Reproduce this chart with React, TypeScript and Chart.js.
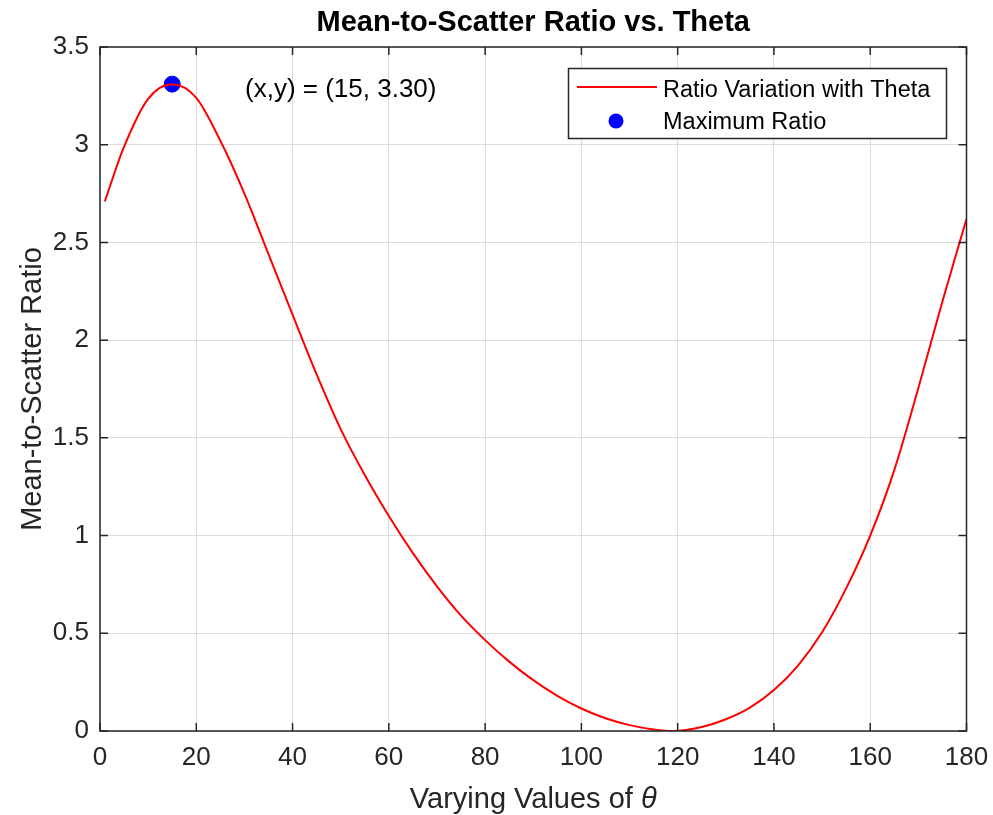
import React, { useEffect, useRef } from "react";
import { Chart, registerables } from "chart.js";

Chart.register(...registerables);

// ---- data ----
const thetaValues = [1, 5, 10, 15, 20, 25, 30, 35, 40, 45, 50, 55, 60, 65, 70, 75, 80, 85, 90, 95, 100, 105, 110, 115, 119, 125, 130, 135, 140, 145, 150, 155, 160, 165, 170, 175, 180];
const ratioValues = [2.71, 2.99, 3.235, 3.31, 3.24, 3.02, 2.75, 2.44, 2.13, 1.825, 1.545, 1.31, 1.10, 0.91, 0.74, 0.59, 0.465, 0.355, 0.26, 0.18, 0.115, 0.065, 0.03, 0.008, 0.0, 0.02, 0.06, 0.12, 0.21, 0.335, 0.505, 0.73, 1.0, 1.335, 1.755, 2.198, 2.62];
const maxTheta = [15];
const maxRatio = [3.31];
const xTickValues = [0, 20, 40, 60, 80, 100, 120, 140, 160, 180];
const yTickValues = [0, 0.5, 1, 1.5, 2, 2.5, 3, 3.5];

const titleText = "Mean-to-Scatter Ratio vs. Theta";
const xLabelText = "Varying Values of ";
const xLabelSymbol = "θ";
const yLabelText = "Mean-to-Scatter Ratio";
const legendLabels = ["Ratio Variation with Theta", "Maximum Ratio"];
const annotationText = "(x,y) = (15, 3.30)";

const FONT = '"Liberation Sans", Arial, Helvetica, sans-serif';
const AXIS_COLOR = "#262626";
const GRID_COLOR = "#dcdcdc";
const LINE_COLOR = "#ff0000";
const MARK_COLOR = "#0000ff";

const decorPlugin = {
  id: "matlabDecor",
  afterDraw(chart: any) {
    const { ctx, chartArea: a, scales } = chart;
    const xs = scales.x;
    const ys = scales.y;
    ctx.save();

    // axes box
    ctx.strokeStyle = AXIS_COLOR;
    ctx.lineWidth = 1.5;
    ctx.strokeRect(a.left, a.top, a.right - a.left, a.bottom - a.top);

    // inward ticks on all four sides
    const tl = 8;
    ctx.beginPath();
    xTickValues.forEach((v) => {
      const px = xs.getPixelForValue(v);
      ctx.moveTo(px, a.bottom);
      ctx.lineTo(px, a.bottom - tl);
      ctx.moveTo(px, a.top);
      ctx.lineTo(px, a.top + tl);
    });
    yTickValues.forEach((v) => {
      const py = ys.getPixelForValue(v);
      ctx.moveTo(a.left, py);
      ctx.lineTo(a.left + tl, py);
      ctx.moveTo(a.right, py);
      ctx.lineTo(a.right - tl, py);
    });
    ctx.stroke();

    const cx = (a.left + a.right) / 2;
    const cy = (a.top + a.bottom) / 2;

    // title
    ctx.fillStyle = "#000";
    ctx.font = `bold 29px ${FONT}`;
    ctx.textAlign = "center";
    ctx.textBaseline = "alphabetic";
    ctx.fillText(titleText, cx, 31);

    // x label with italic theta
    ctx.fillStyle = AXIS_COLOR;
    ctx.font = `29px ${FONT}`;
    const w1 = ctx.measureText(xLabelText).width;
    ctx.font = `italic 29px ${FONT}`;
    const w2 = ctx.measureText(xLabelSymbol).width;
    const startX = cx - (w1 + w2) / 2;
    ctx.textAlign = "left";
    ctx.font = `29px ${FONT}`;
    ctx.fillText(xLabelText, startX, 808);
    ctx.font = `italic 29px ${FONT}`;
    ctx.fillText(xLabelSymbol, startX + w1, 808);

    // y label
    ctx.save();
    ctx.translate(41, cy);
    ctx.rotate(-Math.PI / 2);
    ctx.textAlign = "center";
    ctx.font = `29px ${FONT}`;
    ctx.fillText(yLabelText, 0, 0);
    ctx.restore();

    // annotation
    ctx.fillStyle = "#000";
    ctx.font = `26px ${FONT}`;
    ctx.textAlign = "left";
    ctx.fillText(annotationText, 245, 97);

    // legend box
    const lx = 568.5, ly = 68.5, lw = 378, lh = 70;
    ctx.fillStyle = "#fff";
    ctx.fillRect(lx, ly, lw, lh);
    ctx.strokeStyle = AXIS_COLOR;
    ctx.lineWidth = 1.5;
    ctx.strokeRect(lx, ly, lw, lh);
    // entry 1: line
    ctx.strokeStyle = LINE_COLOR;
    ctx.lineWidth = 2;
    ctx.beginPath();
    ctx.moveTo(577, 87);
    ctx.lineTo(657, 87);
    ctx.stroke();
    // entry 2: dot
    ctx.fillStyle = MARK_COLOR;
    ctx.beginPath();
    ctx.arc(616, 121, 7.5, 0, Math.PI * 2);
    ctx.fill();
    ctx.fillStyle = "#000";
    ctx.font = `23.5px ${FONT}`;
    ctx.fillText(legendLabels[0], 663, 97);
    ctx.fillText(legendLabels[1], 663, 128.5);

    ctx.restore();
  },
};

export default function App() {
  const canvasRef = useRef<HTMLCanvasElement | null>(null);

  useEffect(() => {
    const canvas = canvasRef.current;
    if (!canvas) return;
    const curve = thetaValues.map((t, i) => ({ x: t, y: ratioValues[i] }));
    const peak = maxTheta.map((t, i) => ({ x: t, y: maxRatio[i] }));

    const tickFont = { family: FONT, size: 26 };

    const chart = new Chart(canvas, {
      type: "line",
      data: {
        datasets: [
          {
            label: legendLabels[0],
            data: curve,
            borderColor: LINE_COLOR,
            borderWidth: 2,
            pointRadius: 0,
            fill: false,
            cubicInterpolationMode: "monotone",
          },
          {
            label: legendLabels[1],
            data: peak,
            showLine: false,
            pointRadius: 8,
            pointBackgroundColor: MARK_COLOR,
            pointBorderColor: MARK_COLOR,
            borderColor: MARK_COLOR,
            backgroundColor: MARK_COLOR,
          },
        ],
      },
      options: {
        animation: false,
        responsive: false,
        devicePixelRatio: 1,
        layout: { padding: { left: 0, right: 26.5, top: 47, bottom: 0 } },
        plugins: {
          legend: { display: false },
          title: { display: false },
          tooltip: { enabled: false },
        },
        scales: {
          x: {
            type: "linear",
            min: 0,
            max: 180,
            afterBuildTicks: (s: any) => {
              s.ticks = xTickValues.map((v) => ({ value: v }));
            },
            afterFit: (s: any) => {
              s.height = 84;
              s.paddingLeft = 0;
              s.paddingRight = 0;
            },
            ticks: {
              font: tickFont,
              color: AXIS_COLOR,
              padding: 11,
              maxRotation: 0,
              autoSkip: false,
              callback: (v: any) => String(v),
            },
            grid: { color: GRID_COLOR, lineWidth: 1, drawTicks: false },
            border: { display: false },
          },
          y: {
            type: "linear",
            min: 0,
            max: 3.5,
            afterBuildTicks: (s: any) => {
              s.ticks = yTickValues.map((v) => ({ value: v }));
            },
            afterFit: (s: any) => {
              s.width = 100;
              s.paddingTop = 0;
              s.paddingBottom = 0;
            },
            ticks: {
              font: tickFont,
              color: AXIS_COLOR,
              padding: 11,
              autoSkip: false,
              callback: (v: any) => String(v),
            },
            grid: { color: GRID_COLOR, lineWidth: 1, drawTicks: false },
            border: { display: false },
          },
        },
      },
      plugins: [decorPlugin],
    });
    return () => chart.destroy();
  }, []);

  return (
    <div style={{ position: "absolute", left: 0, top: 0, width: 993, height: 815, background: "#fff" }}>
      <canvas ref={canvasRef} width={993} height={815} style={{ display: "block", width: 993, height: 815 }} />
    </div>
  );
}
